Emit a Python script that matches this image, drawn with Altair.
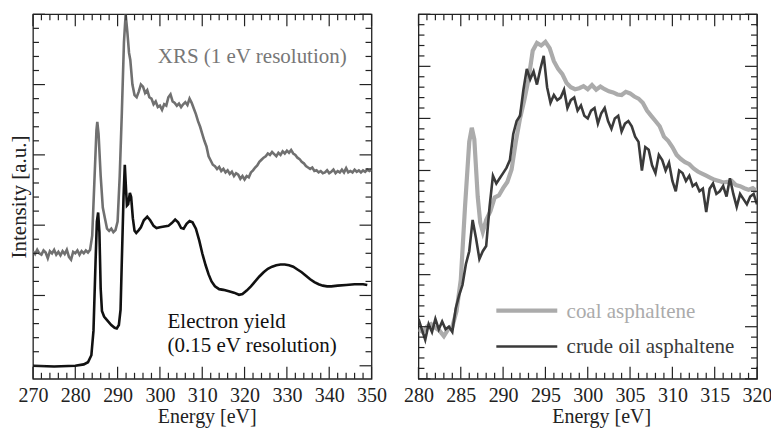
import altair as alt
import pandas as pd

# ---------------- data ----------------
xrs_energy = [270.0, 270.5, 271.0, 271.5, 272.0, 272.5, 273.0, 273.5, 274.0, 274.5,
              275.0, 275.5, 276.0, 276.5, 277.0, 277.5, 278.0, 278.5, 279.0, 279.5,
              280.0, 280.5, 281.0, 281.5, 282.0, 282.5, 283.0, 283.5, 284.0, 284.5,
              285.0, 285.2, 285.5, 286.0, 286.5, 287.0, 287.5, 288.0, 288.5, 289.0,
              289.5, 290.0, 290.5, 291.0, 291.5, 291.9, 292.3, 292.7, 293.0, 293.5,
              294.0, 294.5, 295.0, 295.5, 296.0, 296.5, 297.0, 297.5, 298.0, 298.5,
              299.0, 299.5, 300.0, 300.5, 301.0, 301.5, 302.0, 302.5, 303.0, 303.5,
              304.0, 304.5, 305.0, 305.5, 306.0, 306.5, 307.0, 307.5, 308.0, 308.5,
              309.0, 309.5, 310.0, 310.5, 311.0, 311.5, 312.0, 312.5, 313.0, 313.5,
              314.0, 314.5, 315.0, 315.5, 316.0, 316.5, 317.0, 317.5, 318.0, 318.5,
              319.0, 319.5, 320.0, 320.5, 321.0, 321.5, 322.0, 322.5, 323.0, 323.5,
              324.0, 324.5, 325.0, 325.5, 326.0, 326.5, 327.0, 327.5, 328.0, 328.5,
              329.0, 329.5, 330.0, 330.5, 331.0, 331.5, 332.0, 332.5, 333.0, 333.5,
              334.0, 334.5, 335.0, 335.5, 336.0, 336.5, 337.0, 337.5, 338.0, 338.5,
              339.0, 339.5, 340.0, 340.5, 341.0, 341.5, 342.0, 342.5, 343.0, 343.5,
              344.0, 344.5, 345.0, 345.5, 346.0, 346.5, 347.0, 347.5, 348.0, 348.5,
              349.0, 349.5, 350.0]
xrs_intensity = [1.63, 1.59, 1.65, 1.60, 1.58, 1.64, 1.61, 1.53, 1.63, 1.60,
                 1.65, 1.58, 1.62, 1.57, 1.63, 1.59, 1.65, 1.55, 1.51, 1.62,
                 1.60, 1.64, 1.58, 1.63, 1.60, 1.64, 1.61, 1.65, 1.85, 2.60,
                 3.35, 3.47, 3.30, 2.70, 2.25, 2.10, 1.95, 1.92, 1.95, 1.90,
                 1.93, 2.05, 2.70, 3.60, 4.60, 5.00, 4.75, 4.45, 4.35, 4.00,
                 3.85, 3.82, 3.90, 4.00, 3.97, 3.88, 3.92, 3.82, 3.80, 3.72,
                 3.76, 3.68, 3.70, 3.64, 3.72, 3.70, 3.82, 3.86, 3.76, 3.74,
                 3.70, 3.73, 3.68, 3.72, 3.75, 3.71, 3.80, 3.74, 3.66, 3.58,
                 3.48, 3.40, 3.30, 3.20, 3.12, 2.98, 2.92, 2.86, 2.84, 2.80,
                 2.83, 2.77, 2.80, 2.75, 2.78, 2.73, 2.76, 2.70, 2.74, 2.72,
                 2.66, 2.70, 2.65, 2.70, 2.68, 2.75, 2.78, 2.82, 2.85, 2.90,
                 2.93, 2.96, 2.98, 3.02, 3.00, 3.04, 3.01, 2.98, 3.03, 3.00,
                 3.05, 3.02, 3.06, 3.03, 3.07, 3.02, 3.00, 2.96, 2.94, 2.90,
                 2.88, 2.84, 2.82, 2.80, 2.82, 2.77, 2.78, 2.75, 2.77, 2.74,
                 2.75, 2.78, 2.74, 2.76, 2.79, 2.74, 2.77, 2.75, 2.79, 2.75,
                 2.81, 2.75, 2.77, 2.75, 2.79, 2.76, 2.78, 2.75, 2.78, 2.76,
                 2.79, 2.77, 2.79]

ey_energy = [270.0, 275.0, 280.0, 282.0, 283.0, 283.8, 284.3, 284.8, 285.1, 285.4,
             285.7, 286.0, 286.3, 286.8, 287.5, 288.5, 289.3, 289.8, 290.3, 290.7,
             291.0, 291.4, 291.7, 292.0, 292.2, 292.5, 292.9, 293.2, 293.6, 294.0,
             294.4, 295.0, 295.5, 296.2, 297.0, 297.7, 298.5, 299.2, 300.0, 301.0,
             302.0, 302.8, 303.6, 304.3, 305.0, 305.6, 306.3, 307.0, 307.7, 308.5,
             309.3, 310.0, 310.8, 311.5, 312.2, 313.0, 314.0, 315.0, 316.3, 317.5,
             318.7, 319.5, 320.5, 321.5, 322.5, 323.5, 324.5, 325.5, 326.5, 327.5,
             328.5, 329.5, 330.5, 331.5, 332.5, 333.5, 334.5, 335.5, 336.5, 337.5,
             338.5, 339.5, 340.5, 342.0, 344.0, 346.0, 348.0, 349.0]
ey_intensity = [0.00, -0.01, 0.00, 0.02, 0.05, 0.15, 0.50, 1.50, 2.05, 2.18,
                1.90, 1.10, 0.78, 0.70, 0.65, 0.58, 0.54, 0.53, 0.58, 0.80,
                1.50, 2.40, 2.86, 2.50, 2.28, 2.30, 2.46, 2.40, 2.10, 1.92,
                1.89, 1.93, 1.97, 2.07, 2.12, 2.07, 1.99, 1.96, 1.97, 1.98,
                1.99, 2.03, 2.08, 2.04, 1.96, 1.95, 2.02, 2.06, 2.04, 1.95,
                1.78, 1.60, 1.43, 1.30, 1.20, 1.13, 1.09, 1.08, 1.06, 1.04,
                1.01, 1.02, 1.07, 1.13, 1.20, 1.27, 1.33, 1.38, 1.41, 1.43,
                1.44, 1.44, 1.43, 1.41, 1.37, 1.33, 1.28, 1.23, 1.19, 1.16,
                1.14, 1.13, 1.13, 1.14, 1.15, 1.16, 1.16, 1.15]

coal_energy = [280.0, 280.5, 281.0, 281.5, 282.0, 282.5, 283.0, 283.5, 284.0, 284.5,
               285.0, 285.5, 286.0, 286.3, 286.6, 287.0, 287.3, 287.6, 288.0, 288.5,
               289.0, 289.5, 290.0, 290.5, 291.0, 291.5, 292.0, 292.5, 293.0, 293.5,
               294.0, 294.5, 295.0, 295.5, 296.0, 296.5, 297.0, 297.5, 298.0, 298.5,
               299.0, 299.5, 300.0, 300.5, 301.0, 301.5, 302.0, 302.5, 303.0, 303.5,
               304.0, 304.5, 305.0, 305.5, 306.0, 306.5, 307.0, 307.5, 308.0, 308.5,
               309.0, 309.5, 310.0, 310.5, 311.0, 311.5, 312.0, 312.5, 313.0, 313.5,
               314.0, 314.5, 315.0, 315.5, 316.0, 316.5, 317.0, 317.5, 318.0, 318.5,
               319.0, 319.5, 320.0]
coal_intensity = [0.95, 0.90, 1.00, 1.05, 0.98, 0.92, 0.82, 0.95, 1.00, 1.30,
                  1.90, 3.30, 4.55, 4.82, 4.60, 3.50, 3.00, 2.82, 3.05, 3.22,
                  3.48, 3.52, 3.66, 3.78, 4.02, 4.55, 5.00, 5.35, 5.75, 6.30,
                  6.45, 6.40, 6.47, 6.35, 6.10, 5.95, 5.85, 5.68, 5.60, 5.56,
                  5.58, 5.62, 5.56, 5.64, 5.55, 5.61, 5.56, 5.52, 5.50, 5.46,
                  5.45, 5.51, 5.48, 5.42, 5.38, 5.30, 5.15, 5.05, 4.95, 4.85,
                  4.65, 4.57, 4.45, 4.30, 4.22, 4.16, 4.12, 4.04, 3.98, 3.94,
                  3.90, 3.86, 3.82, 3.80, 3.77, 3.78, 3.80, 3.72, 3.70, 3.66,
                  3.63, 3.66, 3.60]

crude_energy = [280.0, 280.4, 280.8, 281.2, 281.6, 282.0, 282.4, 282.8, 283.2, 283.6,
                284.0, 284.4, 284.8, 285.2, 285.6, 286.0, 286.4, 286.8, 287.2, 287.6,
                288.0, 288.4, 288.8, 289.2, 289.6, 290.0, 290.4, 290.8, 291.2, 291.6,
                292.0, 292.4, 292.8, 293.2, 293.6, 294.0, 294.4, 294.8, 295.2, 295.6,
                296.0, 296.4, 296.8, 297.2, 297.6, 298.0, 298.4, 298.8, 299.2, 299.6,
                300.0, 300.4, 300.8, 301.2, 301.6, 302.0, 302.4, 302.8, 303.2, 303.6,
                304.0, 304.4, 304.8, 305.2, 305.6, 306.0, 306.4, 306.8, 307.2, 307.6,
                308.0, 308.4, 308.8, 309.2, 309.6, 310.0, 310.4, 310.8, 311.2, 311.6,
                312.0, 312.4, 312.8, 313.2, 313.6, 314.0, 314.4, 314.8, 315.2, 315.6,
                316.0, 316.4, 316.8, 317.2, 317.6, 318.0, 318.4, 318.8, 319.2, 319.6,
                320.0]
crude_intensity = [1.15, 0.95, 0.75, 1.05, 0.90, 1.15, 0.95, 1.10, 0.95, 1.00,
                   0.90, 1.35, 1.60, 1.80, 2.20, 2.45, 3.05, 2.70, 2.30, 2.45,
                   2.55, 3.30, 3.90, 3.75, 3.85, 3.95, 4.05, 4.20, 4.70, 4.95,
                   5.05, 5.55, 5.95, 5.75, 5.90, 5.65, 5.95, 6.20, 5.60, 5.30,
                   5.45, 5.35, 5.40, 5.55, 5.20, 5.35, 5.40, 5.15, 5.25, 5.05,
                   5.00, 5.15, 5.20, 4.90, 5.10, 5.20, 4.95, 4.80, 5.00, 5.05,
                   4.75, 4.90, 4.95, 4.85, 4.65, 4.55, 4.00, 4.45, 4.40, 4.10,
                   3.95, 4.30, 4.20, 4.00, 4.15, 3.80, 3.60, 4.00, 3.95, 3.80,
                   3.90, 3.70, 3.75, 3.60, 3.65, 3.20, 3.65, 3.75, 3.55, 3.60,
                   3.70, 3.50, 3.85, 3.55, 3.30, 3.55, 3.45, 3.35, 3.50, 3.55,
                   3.35]

series_left = ["XRS (1 eV resolution)", "Electron yield"]
series_right = ["coal asphaltene", "crude oil asphaltene"]
left_notes = ["XRS (1 eV resolution)", "Electron yield", "(0.15 eV resolution)"]

left_x_ticks = list(range(270, 351, 10))
right_x_ticks = list(range(280, 321, 5))

# ---------------- styling ----------------
FONT = "Liberation Serif"
FRAME = "#222222"
W1, W2, H = 339, 339, 365
MAJ, MIN = 12, 6
AX_FS = 20


def xaxis(vals, title_x):
    return alt.Axis(values=vals, format="d", labelFontSize=AX_FS, labelFont=FONT,
                    labelColor=FRAME, ticks=False, tickSize=0, domain=False,
                    grid=False, labelPadding=6.5, labelFlush=False,
                    labelOverlap=False, title="Energy [eV]", titleFont=FONT,
                    titleFontSize=AX_FS, titleFontWeight="normal",
                    titleColor=FRAME, titleX=title_x, titleY=44,
                    titleBaseline="alphabetic", titleAlign="center")


def tick_layers(xs, ys, xax, yax, W, H, xmaj, xmin, ymaj, ymin):
    layers = []
    for vals, ln in ((xmaj, MAJ), (xmin, MIN)):
        df = pd.DataFrame({"E": vals})
        for y0, y1 in ((H, H - ln), (0, ln)):
            layers.append(
                alt.Chart(df).mark_rule(color=FRAME, strokeWidth=1.2).encode(
                    x=alt.X("E:Q", scale=xs, axis=xax),
                    y=alt.value(y0), y2=alt.value(y1)))
    for vals, ln in ((ymaj, MAJ), (ymin, MIN)):
        df = pd.DataFrame({"I": vals})
        for x0, x1 in ((0, ln), (W, W - ln)):
            layers.append(
                alt.Chart(df).mark_rule(color=FRAME, strokeWidth=1.2).encode(
                    y=alt.Y("I:Q", scale=ys, axis=yax),
                    x=alt.value(x0), x2=alt.value(x1)))
    return layers


# ---------------- left panel ----------------
xs_l = alt.Scale(domain=[270, 350], nice=False, zero=False)
ys_l = alt.Scale(domain=[-0.185, 5.0], nice=False, zero=False)
xax_l = xaxis(left_x_ticks, 174)
yax_l = alt.Axis(title="Intensity [a.u.]", labels=False, ticks=False,
                 domain=False, grid=False, titleFont=FONT,
                 titleFontSize=21, titleFontWeight="normal",
                 titleColor=FRAME, titlePadding=3)

df_left = pd.concat([
    pd.DataFrame({"E": xrs_energy, "I": xrs_intensity, "s": series_left[0]}),
    pd.DataFrame({"E": ey_energy, "I": ey_intensity, "s": series_left[1]}),
])

lines_left = alt.Chart(df_left).mark_line(strokeWidth=2.6, clip=True).encode(
    x=alt.X("E:Q", scale=xs_l, axis=xax_l),
    y=alt.Y("I:Q", scale=ys_l, axis=yax_l),
    color=alt.Color("s:N", scale=alt.Scale(domain=series_left,
                                           range=["#707070", "#111111"]),
                    legend=None),
    detail="s:N",
)

notes_left = pd.DataFrame({
    "t": left_notes,
    "E": [299.5, 301.8, 301.8],
    "I": [4.30, 0.54, 0.19],
    "c": ["#777777", "#111111", "#111111"],
})
text_left = alt.Chart(notes_left).mark_text(
    align="left", baseline="alphabetic", font=FONT, fontSize=21).encode(
    x=alt.X("E:Q", scale=xs_l, axis=xax_l),
    y=alt.Y("I:Q", scale=ys_l, axis=yax_l),
    text="t:N",
    color=alt.Color("c:N", scale=None),
)

lx_min = [v for v in range(270, 351, 2) if v % 10 != 0]
ly_maj = [0, 1, 2, 3, 4, 5]
ly_min = [round(i * 0.2, 1) for i in range(0, 26) if i % 5 != 0]

left = alt.layer(
    lines_left, text_left,
    *tick_layers(xs_l, ys_l, xax_l, yax_l, W1, H, left_x_ticks, lx_min, ly_maj, ly_min)
).properties(width=W1, height=H)

# ---------------- right panel ----------------
xs_r = alt.Scale(domain=[280, 320], nice=False, zero=False)
ys_r = alt.Scale(domain=[0, 7], nice=False, zero=False)
xax_r = xaxis(right_x_ticks, 183)
yax_r = None

color_r = alt.Scale(domain=series_right, range=["#ababab", "#3a3a3a"])
width_r = alt.Scale(domain=series_right, range=[4.2, 2.6])

df_right = pd.concat([
    pd.DataFrame({"E": coal_energy, "I": coal_intensity, "s": series_right[0]}),
    pd.DataFrame({"E": crude_energy, "I": crude_intensity, "s": series_right[1]}),
])

lines_right = alt.Chart(df_right).mark_line(clip=True).encode(
    x=alt.X("E:Q", scale=xs_r, axis=xax_r),
    y=alt.Y("I:Q", scale=ys_r, axis=yax_r),
    color=alt.Color("s:N", scale=color_r, legend=None),
    strokeWidth=alt.StrokeWidth("s:N", scale=width_r, legend=None),
    detail="s:N",
)

legend_df = pd.DataFrame({
    "s": series_right,
    "E": [289.2, 289.2],
    "E1": [296.4, 296.4],
    "I": [1.31, 0.62],
    "Et": [297.5, 297.5],
    "It": [1.17, 0.49],
})
legend_lines = alt.Chart(legend_df).mark_rule().encode(
    x=alt.X("E:Q", scale=xs_r, axis=xax_r),
    x2="E1:Q",
    y=alt.Y("I:Q", scale=ys_r, axis=yax_r),
    color=alt.Color("s:N", scale=color_r, legend=None),
    strokeWidth=alt.StrokeWidth("s:N", scale=width_r, legend=None),
)
legend_text = alt.Chart(legend_df).mark_text(
    align="left", baseline="alphabetic", font=FONT, fontSize=21).encode(
    x=alt.X("Et:Q", scale=xs_r, axis=xax_r),
    y=alt.Y("It:Q", scale=ys_r, axis=yax_r),
    text="s:N",
    color=alt.Color("s:N", scale=color_r, legend=None),
)

rx_min = [v for v in range(280, 321) if v % 5 != 0]
ry_maj = [0, 1, 2, 3, 4, 5, 6, 7]
ry_min = [round(i * 0.2, 1) for i in range(0, 36) if i % 5 != 0]

right = alt.layer(
    lines_right, legend_lines, legend_text,
    *tick_layers(xs_r, ys_r, xax_r, yax_r, W2, H, right_x_ticks, rx_min, ry_maj, ry_min)
).properties(width=W2, height=H)

chart = alt.hconcat(left, right, spacing=47, bounds="flush").properties(
    padding={"left": 0, "top": 4, "right": -2, "bottom": 0},
    background="white",
).configure_view(stroke=FRAME, strokeWidth=1.3).resolve_scale(
    color="independent", strokeWidth="independent")

chart.save("out.html", embed_options={"renderer": "svg", "actions": False})
